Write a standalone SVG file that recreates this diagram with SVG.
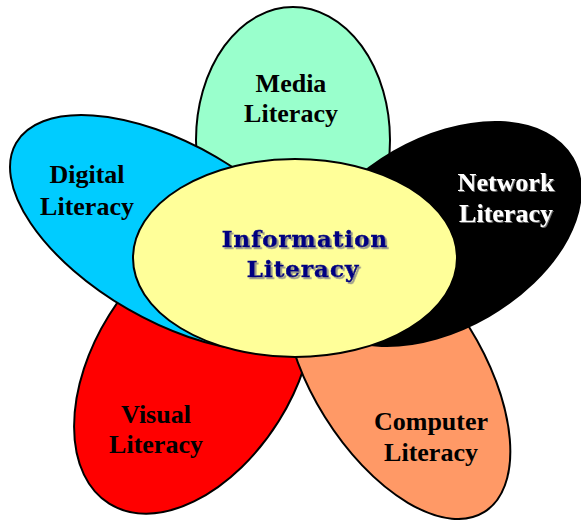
<svg xmlns="http://www.w3.org/2000/svg" width="581" height="520" viewBox="0 0 581 520">
<style>
.petal{stroke:#000;stroke-width:2}
.lbl{font-family:"Liberation Serif","Times New Roman",serif;font-weight:bold;font-size:26px;text-anchor:middle;fill:#000}
.wht{fill:#fff}
.ctr{font-family:"DejaVu Serif",serif;font-weight:bold;font-size:23px;letter-spacing:1px;text-anchor:middle;fill:#000080;stroke:#000080;stroke-width:0.5}
</style>
<defs>
<filter id="sh" x="-10%" y="-20%" width="120%" height="150%">
<feDropShadow dx="1.8" dy="1.8" stdDeviation="0.7" flood-color="#888" flood-opacity="0.9"/>
</filter>
<filter id="shw" x="-10%" y="-20%" width="120%" height="150%">
<feDropShadow dx="1" dy="1" stdDeviation="0.4" flood-color="#777" flood-opacity="0.9"/>
</filter>
</defs>
<rect width="581" height="520" fill="#fff"/>
<g id="media">
<ellipse class="petal" cx="293" cy="140" rx="97" ry="133" fill="#99FFCC"/>
<text class="lbl" x="291" y="92">Media</text>
<text class="lbl" x="291" y="122">Literacy</text>
</g>
<g id="visual">
<ellipse class="petal" cx="0" cy="0" rx="160" ry="100" fill="#FF0000" transform="translate(194,368) rotate(-58)"/>
<text class="lbl" x="156" y="423">Visual</text>
<text class="lbl" x="156" y="453">Literacy</text>
</g>
<g id="computer">
<ellipse class="petal" cx="0" cy="0" rx="165" ry="85" fill="#FF9966" transform="translate(397,372) rotate(58)"/>
<text class="lbl" x="431" y="430">Computer</text>
<text class="lbl" x="431" y="461">Literacy</text>
</g>
<g id="digital">
<ellipse class="petal" cx="0" cy="0" rx="180" ry="88" fill="#00CCFF" transform="translate(172,233) rotate(30)"/>
<text class="lbl" x="87" y="183">Digital</text>
<text class="lbl" x="87" y="215">Literacy</text>
</g>
<g id="network">
<ellipse class="petal" cx="0" cy="0" rx="152" ry="95" fill="#000000" transform="translate(441,234) rotate(-30)"/>
<text class="lbl wht" x="506" y="191" filter="url(#shw)">Network</text>
<text class="lbl wht" x="506" y="222" filter="url(#shw)">Literacy</text>
</g>
<g id="information">
<ellipse class="petal" cx="295" cy="258" rx="162" ry="99" fill="#FFFF99"/>
<text class="ctr" x="305" y="247" filter="url(#sh)">Information</text>
<text class="ctr" x="303" y="277" filter="url(#sh)">Literacy</text>
</g>
<g id="connectors"/>
</svg>
